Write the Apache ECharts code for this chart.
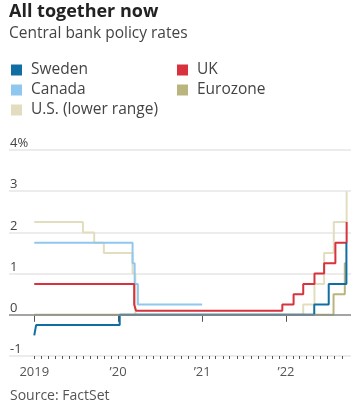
<!DOCTYPE html>
<html>
<head>
<meta charset="utf-8">
<script src="https://cdn.jsdelivr.net/npm/echarts@6/dist/echarts.min.js"></script>
<style>
html,body{margin:0;padding:0;background:#fff;}
#chart{width:359px;height:411px;}
</style>
</head>
<body>
<div id="chart"></div>
<script>
// ---- Data (step dates: date a new rate took effect) ----
const sweden = [["2019-01-01",-0.5],["2019-01-09",-0.25],["2020-01-08",0],["2022-05-04",0.25],["2022-07-06",0.75],["2022-09-21",1.75],["2022-09-23",1.75]];
const canada = [["2019-01-01",1.75],["2020-03-04",1.25],["2020-03-13",0.75],["2020-03-27",0.25],["2021-01-01",0.25]];
const uk = [["2019-01-01",0.75],["2020-03-11",0.25],["2020-03-19",0.1],["2021-12-16",0.25],["2022-02-03",0.5],["2022-03-17",0.75],["2022-05-05",1.0],["2022-06-16",1.25],["2022-08-04",1.75],["2022-09-22",2.25],["2022-09-23",2.25]];
const eurozone = [["2019-01-01",0],["2022-07-27",0.5],["2022-09-14",1.25],["2022-09-23",1.25]];
const us = [["2019-01-01",2.25],["2019-08-01",2.0],["2019-09-19",1.75],["2019-10-31",1.5],["2020-03-04",1.0],["2020-03-16",0],["2022-03-17",0.25],["2022-05-05",0.75],["2022-06-16",1.5],["2022-07-28",2.25],["2022-09-22",3.0],["2022-09-23",3.0]];
const yearTicks = ["2019-01-01","2020-01-01","2021-01-01","2022-01-01"];
const yearLabels = ["2019","\u201920","\u201921","\u201922"];
const yTickLabels = {"4":"4%"};

const FONT = '"Open Sans"';
const colors = {Sweden:'#106ea2', Canada:'#90c7ee', UK:'#d7323d', Eurozone:'#bab47f', US:'#e2ddbe'};

const t = s => new Date(s + 'T00:00:00Z').getTime();
const xMin = t("2018-09-13"), xMax = t("2022-10-11");

// monthly tick positions 2019-01 .. 2022-09
const monthTicks = [];
for (let y = 2019; y <= 2022; y++) {
  for (let m = 0; m < 12; m++) {
    if (y === 2022 && m > 8) break;
    monthTicks.push(Date.UTC(y, m, 1));
  }
}
const yearTickVals = yearTicks.map(t);

const conv = arr => arr.map(d => [t(d[0]), d[1]]);

function lineSeries(name, data, color, extra) {
  return Object.assign({
    name: name, type: 'line', step: 'end', data: conv(data),
    showSymbol: false, symbol: 'none',
    lineStyle: {color: color, width: 2},
    itemStyle: {color: color},
    xAxisIndex: 0, yAxisIndex: 0
  }, extra || {});
}

const chart = echarts.init(document.getElementById('chart'), null, {renderer: 'canvas'});
chart.setOption({
  animation: false,
  backgroundColor: '#fff',
  title: {
    left: 9, top: 3, padding: 0, itemGap: 5,
    text: 'All together now',
    subtext: 'Central bank policy rates',
    textStyle: {fontFamily: FONT, fontSize: 18, fontWeight: 'bold', color: '#222'},
    subtextStyle: {fontFamily: FONT, fontSize: 15.5, color: '#444'}
  },
  legend: [
    {left: 11, top: 60, orient: 'vertical', padding: 0, itemGap: 0, icon: 'rect',
     itemWidth: 11, itemHeight: 11, data: ['Sweden','Canada','U.S. (lower range)'],
     textStyle: {fontFamily: FONT, fontSize: 15.5, color: '#444', lineHeight: 20, padding: [0,0,0,4]}},
    {left: 177, top: 60, orient: 'vertical', padding: 0, itemGap: 0, icon: 'rect',
     itemWidth: 11, itemHeight: 11, data: ['UK','Eurozone'],
     textStyle: {fontFamily: FONT, fontSize: 15.5, color: '#444', lineHeight: 20, padding: [0,0,0,4]}}
  ],
  grid: {left: 9, right: 8, top: 150, bottom: 55, containLabel: false},
  xAxis: [
    {type: 'value', min: xMin, max: xMax, position: 'bottom', offset: 0,
     axisLine: {show: false}, splitLine: {show: false},
     axisTick: {show: true, customValues: yearTickVals, length: 7, lineStyle: {color: '#555', width: 1}},
     axisLabel: {show: true, customValues: yearTickVals, margin: 10, showMinLabel: true, showMaxLabel: true,
       formatter: v => { const i = yearTickVals.indexOf(v); return i >= 0 ? yearLabels[i] : ''; },
       fontFamily: FONT, fontSize: 13, color: '#555'}},
    {type: 'value', show: true, min: xMin, max: xMax, position: 'bottom', offset: 0,
     axisLine: {show: false}, splitLine: {show: false},
     axisTick: {show: true, customValues: monthTicks, length: 3, lineStyle: {color: '#555', width: 1}},
     axisLabel: {show: true, customValues: monthTicks, formatter: () => ' ', fontSize: 1}}
  ],
  yAxis: {
    type: 'value', min: -1, max: 4, interval: 1,
    axisLine: {show: false}, axisTick: {show: false},
    splitLine: {show: true, lineStyle: {color: '#e6e6e6', width: 1.5}},
    axisLabel: {inside: true, margin: 1, verticalAlign: 'bottom', padding: [0,0,0,0],
      fontFamily: FONT, fontSize: 13, color: '#444',
      formatter: v => yTickLabels[String(v)] || String(v)}
  },
  series: [
    lineSeries('U.S. (lower range)', us, colors.US, {
      markLine: {silent: true, symbol: 'none', label: {show: false},
        lineStyle: {color: '#8c8c8c', width: 1.5, type: 'solid'},
        data: [{yAxis: 0}]}
    }),
    lineSeries('Eurozone', eurozone, colors.Eurozone),
    lineSeries('Canada', canada, colors.Canada),
    lineSeries('UK', uk, colors.UK),
    lineSeries('Sweden', sweden, colors.Sweden)
  ],
  graphic: [
    {type: 'text', left: 10, top: 389, style: {text: 'Source: FactSet', fontFamily: FONT, fontSize: 14, fill: '#555'}}
  ]
});
</script>
</body>
</html>
